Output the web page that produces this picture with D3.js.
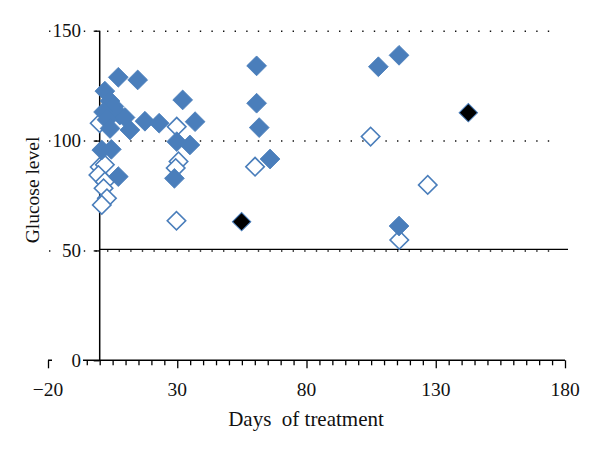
<!DOCTYPE html>
<html><head><meta charset="utf-8">
<script src="https://cdn.jsdelivr.net/npm/d3@7"></script>
<style>body{margin:0;background:#fff}</style>
</head><body>
<svg id="c" width="600" height="452"></svg>
<script>
// Data (days of treatment, glucose level)
const filledDays = [7.2,14.7,2,4,5.5,1.5,7.8,9.8,2.8,4,11.7,17.5,23,0.8,4.5,7.2,32.1,36.9,29.8,34.9,28.9,60.7,60.7,61.7,65.9,107.8,115.8,115.8];
const filledVals = [128.8,127.6,122.5,118,115.5,113,111.6,110.5,109.5,105.5,104.8,108.8,107.9,95.7,96,83.6,118.5,108.6,99.5,98,82.8,134,117,105.9,91.6,133.6,138.8,61.1];
const hollowDays = [0,29.8,30.5,29.4,29.7,0,2,-0.5,2,1.5,2.8,0.8,60.1,104.8,126.9,115.9];
const hollowVals = [107.9,106.3,90.5,87.5,63.5,88,89,84.3,81.3,78.3,73.7,70.7,88.1,101.8,79.8,54.8];
const blackDays = [54.9,142.6];
const blackVals = [63.1,112.7];
const xTicks = [-20,30,80,130,180];
const yTicks = [0,50,100,150];
const xTitle = "Days  of treatment";
const yTitle = "Glucose level";

const svg = d3.select("#c");
const x = d3.scaleLinear().domain([-20,180]).range([48,565]);
const y = d3.scaleLinear().domain([0,150]).range([360.3,30.7]);
const blue = "#4a7ebb";
const font = "'Liberation Serif', 'Times New Roman', serif";

// dotted gridlines
svg.append("g").selectAll("line").data(yTicks.filter(d=>d>0)).join("line")
  .attr("x1",49).attr("x2",557)
  .attr("y1",d=>y(d)+0.5).attr("y2",d=>y(d)+0.5)
  .attr("stroke","#111").attr("stroke-width",1.4).attr("stroke-dasharray","1.4,10.2");

// solid threshold line near 50
svg.append("line").attr("x1",x(0)).attr("x2",568)
  .attr("y1",y(50.5)).attr("y2",y(50.5)).attr("stroke","#000").attr("stroke-width",1.3);

// x axis
const xAxis = d3.axisBottom(x).tickValues(d3.range(-20,181,5)).tickSize(5).tickFormat("");
const gx = svg.append("g").attr("transform",`translate(0,${y(0)})`).call(xAxis);
gx.select(".domain").attr("stroke","#000").attr("stroke-width",1.5).attr("d",`M${x(-20)},0H${x(180)}`);
gx.selectAll(".tick line").attr("stroke","#000").attr("stroke-width",1.3)
  .attr("y2",d=>xTicks.includes(d)?8:5);
svg.append("g").selectAll("text").data(xTicks).join("text")
  .attr("x",d=>x(d)).attr("y",396).attr("text-anchor","middle")
  .attr("font-family",font).attr("font-size",19.5).attr("fill","#111")
  .text(d=>d<0?"\u2212"+Math.abs(d):d);

// y axis
const yAxis = d3.axisLeft(y).tickValues(yTicks).tickSize(6).tickFormat("");
const gy = svg.append("g").attr("transform",`translate(${x(0)},0)`).call(yAxis);
gy.select(".domain").attr("stroke","#000").attr("stroke-width",1.5).attr("d",`M0,${y(150)}V${y(0)}`);
gy.selectAll(".tick line").attr("stroke","#000").attr("stroke-width",1.3);
const yl = svg.append("g").selectAll("g").data(yTicks).join("g");
yl.append("rect").attr("x",52).attr("y",d=>y(d)-8).attr("width",31).attr("height",15).attr("fill","#fff");
yl.append("text").attr("x",81).attr("y",d=>y(d)+6.5).attr("text-anchor","end")
  .attr("font-family",font).attr("font-size",19).attr("fill","#111").text(d=>d);

// titles
svg.append("text").attr("x",306).attr("y",426).attr("text-anchor","middle")
  .attr("font-family",font).attr("font-size",21).attr("fill","#111")
  .attr("xml:space","preserve").style("white-space","pre").text(xTitle);
svg.append("text").attr("transform","translate(39,190) rotate(-90)").attr("text-anchor","middle")
  .attr("font-family",font).attr("font-size",19.5).attr("fill","#111").text(yTitle);

// markers
const diamond = d3.symbol().type(d3.symbolSquare).size(196)();
const diamondS = d3.symbol().type(d3.symbolSquare).size(170)();
const hollow = hollowDays.map((d,i)=>[d,hollowVals[i]]);
const filled = filledDays.map((d,i)=>[d,filledVals[i]]);
const black = blackDays.map((d,i)=>[d,blackVals[i]]);
svg.append("g").selectAll("path").data(hollow).join("path")
  .attr("d",diamondS).attr("transform",d=>`translate(${x(d[0])},${y(d[1])}) rotate(45)`)
  .attr("fill","#fff").attr("stroke",blue).attr("stroke-width",1.6);
svg.append("g").selectAll("path").data(filled).join("path")
  .attr("d",diamond).attr("transform",d=>`translate(${x(d[0])},${y(d[1])}) rotate(45)`)
  .attr("fill",blue).attr("stroke",blue).attr("stroke-width",0.8);
svg.append("g").selectAll("path").data(black).join("path")
  .attr("d",diamondS).attr("transform",d=>`translate(${x(d[0])},${y(d[1])}) rotate(45)`)
  .attr("fill","#000").attr("stroke",blue).attr("stroke-width",1);
</script>
</body></html>
